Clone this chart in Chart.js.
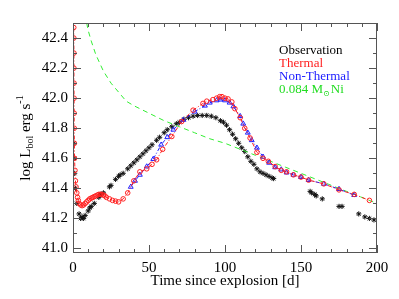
<!DOCTYPE html>
<html>
<head>
<meta charset="utf-8">
<script src="https://cdn.jsdelivr.net/npm/chart.js@4.4.1/dist/chart.umd.min.js"></script>
<style>
  html, body { margin: 0; padding: 0; background: #fff; }
  #wrap { width: 399px; height: 299px; }
</style>
</head>
<body>
<div id="wrap"><canvas id="lcChart" width="399" height="299"></canvas></div>
<script>
// observed bolometric light curve (days, log L)
const obsT = [0.5, 0.8, 1.1, 1.6, 2.5, 4, 5, 6, 7, 8, 10, 11, 12, 14, 17, 18, 20, 24, 25, 28, 30, 31, 33, 36, 38, 40, 42, 44, 46, 48, 50, 52, 55, 57, 60, 62, 65, 68, 70, 73, 76, 79, 82, 85, 88, 91, 94, 97, 99, 101, 103, 105, 107, 109, 111, 113, 115, 117, 119, 121, 123, 125, 127, 129, 131, 132, 156, 157, 159, 160, 164, 175, 177, 188, 192, 195, 198];
const obsL = [41.70, 41.60, 41.50, 41.40, 41.30, 41.23, 41.20, 41.21, 41.20, 41.22, 41.25, 41.27, 41.28, 41.30, 41.34, 41.36, 41.37, 41.41, 41.42, 41.46, 41.48, 41.49, 41.50, 41.53, 41.55, 41.57, 41.59, 41.61, 41.63, 41.65, 41.67, 41.69, 41.72, 41.74, 41.77, 41.79, 41.81, 41.83, 41.84, 41.86, 41.87, 41.88, 41.885, 41.885, 41.885, 41.88, 41.87, 41.85, 41.84, 41.82, 41.79, 41.76, 41.73, 41.70, 41.67, 41.645, 41.61, 41.58, 41.56, 41.53, 41.51, 41.50, 41.49, 41.48, 41.47, 41.465, 41.38, 41.37, 41.36, 41.35, 41.33, 41.28, 41.28, 41.23, 41.21, 41.20, 41.19];

// thermal model
const thermT = [0.5, 0.55, 0.6, 0.6, 0.65, 0.7, 0.75, 0.8, 0.9, 1.0, 1.3, 1.6, 2, 2.5, 3, 3.5, 4, 5, 6, 7, 8, 9, 10, 11, 12, 13, 14, 15, 16, 17, 18, 19, 20, 21, 22, 24, 26, 28, 30, 33, 36, 40, 44, 48.5, 52, 55, 59, 65, 71.5, 79, 85.5, 88, 92, 94.5, 96.5, 98, 100, 102, 104.5, 106.5, 110, 113, 116.5, 121, 125, 128.5, 133, 137, 140.5, 145, 150, 155, 165, 175, 185, 195];
const thermL = [42.47, 42.40, 42.30, 42.20, 42.10, 42.00, 41.90, 41.80, 41.70, 41.60, 41.52, 41.45, 41.41, 41.37, 41.34, 41.32, 41.30, 41.29, 41.285, 41.29, 41.30, 41.31, 41.32, 41.33, 41.335, 41.34, 41.345, 41.35, 41.355, 41.36, 41.36, 41.36, 41.355, 41.35, 41.34, 41.33, 41.32, 41.315, 41.31, 41.33, 41.37, 41.45, 41.51, 41.53, 41.56, 41.59, 41.66, 41.745, 41.845, 41.92, 41.965, 41.98, 41.99, 42.00, 42.01, 42.01, 42.00, 41.995, 41.975, 41.93, 41.87, 41.80, 41.735, 41.64, 41.60, 41.58, 41.545, 41.52, 41.51, 41.49, 41.475, 41.455, 41.43, 41.39, 41.36, 41.32];

// non-thermal model
const nonthT = [38, 40.8, 44, 48.5, 52.8, 58, 62, 66, 72.6, 80, 86.8, 90, 94.5, 97, 100, 103, 105.5, 110, 112, 115, 117.6, 121, 125, 129, 133, 137, 140.5, 145, 150, 155, 165, 175, 185];
const nonthL = [41.41, 41.45, 41.49, 41.545, 41.595, 41.69, 41.74, 41.79, 41.855, 41.91, 41.95, 41.97, 41.985, 41.99, 41.985, 41.97, 41.945, 41.88, 41.83, 41.77, 41.72, 41.67, 41.61, 41.57, 41.54, 41.525, 41.505, 41.49, 41.475, 41.455, 41.43, 41.395, 41.355];

// 0.084 Msun Ni decay curve
const niT = [9, 10, 12, 15, 20, 25, 30, 35, 40, 50, 60, 70, 80, 90, 100, 120, 140, 160, 180, 200];
const niL = [42.50, 42.45, 42.38, 42.29, 42.18, 42.10, 42.04, 41.98, 41.95, 41.90, 41.85, 41.81, 41.77, 41.73, 41.70, 41.62, 41.54, 41.46, 41.38, 41.30];

const xTicks = [0, 50, 100, 150, 200];
const yTicks = [41.0, 41.2, 41.4, 41.6, 41.8, 42.0, 42.2, 42.4];

const serif = '"Liberation Serif", "DejaVu Serif", serif';

function pts(xs, ys) {
    return xs.map((x, i) => ({ x: x, y: ys[i] }));
}

// frame, inward ticks, titles and legend, drawn IDL style
const idlFrame = {
    id: 'idlFrame',
    afterDraw(chart) {
        const ctx = chart.ctx;
        const a = chart.chartArea;
        const xs = chart.scales.x;
        const ys = chart.scales.y;
        ctx.save();
        ctx.strokeStyle = '#555';
        ctx.lineWidth = 1;
        ctx.strokeRect(a.left + 0.5, a.top + 0.5, a.right - a.left - 1, a.bottom - a.top - 1);

        ctx.beginPath();
        for (let t = 0; t <= 200; t += 10) {
            const px = Math.round(xs.getPixelForValue(t)) + 0.5;
            const len = (t % 50 === 0) ? 8 : 4;
            ctx.moveTo(px, a.bottom); ctx.lineTo(px, a.bottom - len);
            ctx.moveTo(px, a.top); ctx.lineTo(px, a.top + len);
        }
        for (let k = 0; k <= 14; k++) {
            const v = 41.0 + k * 0.1;
            const py = Math.round(ys.getPixelForValue(v)) + 0.5;
            const len = (k % 2 === 0) ? 8 : 4;
            ctx.moveTo(a.left, py); ctx.lineTo(a.left + len, py);
            ctx.moveTo(a.right, py); ctx.lineTo(a.right - len, py);
        }
        ctx.stroke();

        // axis titles
        ctx.fillStyle = '#000';
        ctx.font = '15px ' + serif;
        ctx.textAlign = 'center';
        ctx.textBaseline = 'middle';
        ctx.fillText('Time since explosion [d]', 225, 281);

        ctx.save();
        ctx.translate(26, 138);
        ctx.rotate(-Math.PI / 2);
        const big = '15px ' + serif, small = '10px ' + serif;
        const parts = [
            ['log L', big, 0], ['bol', small, 4], [' erg s', big, 0], ['-1', small, -6]
        ];
        let total = 0;
        parts.forEach(p => { ctx.font = p[1]; total += ctx.measureText(p[0]).width; });
        let cx = -total / 2;
        ctx.textAlign = 'left';
        parts.forEach(p => {
            ctx.font = p[1];
            ctx.fillText(p[0], cx, p[2]);
            cx += ctx.measureText(p[0]).width;
        });
        ctx.restore();

        // legend
        ctx.textAlign = 'left';
        ctx.textBaseline = 'middle';
        const lx = 279;
        const lf = '13px ' + serif;
        ctx.font = lf;
        ctx.fillStyle = '#000'; ctx.fillText('Observation', lx, 51);
        ctx.fillStyle = '#ff2020'; ctx.fillText('Thermal', lx, 64);
        ctx.fillStyle = '#1a1aff'; ctx.fillText('Non-Thermal', lx, 77);
        ctx.fillStyle = '#22dd22';
        let gx = lx;
        ctx.fillText('0.084 M', gx, 90); gx += ctx.measureText('0.084 M').width;
        ctx.font = '8px ' + serif;
        ctx.fillText('\u2299', gx, 94); gx += ctx.measureText('\u2299').width + 1;
        ctx.font = lf;
        ctx.fillText('Ni', gx, 90);
        ctx.restore();
    }
};

const ctx = document.getElementById('lcChart').getContext('2d');

const config = {
    type: 'scatter',
    data: {
        datasets: [
            {
                label: 'Observation',
                data: pts(obsT, obsL),
                showLine: false,
                pointStyle: 'star',
                pointRadius: 2.6,
                borderColor: '#111',
                borderWidth: 1,
                backgroundColor: '#111',
                order: 4
            },
            {
                label: '0.084 M Ni',
                data: pts(niT, niL),
                showLine: true,
                pointRadius: 0,
                borderColor: '#33ee33',
                borderWidth: 1,
                borderDash: [5, 4],
                order: 3
            },
            {
                label: 'Non-Thermal',
                data: pts(nonthT, nonthL),
                showLine: true,
                pointStyle: 'triangle',
                pointRadius: 2.8,
                borderColor: '#2020ff',
                backgroundColor: 'rgba(0,0,0,0)',
                borderWidth: 1,
                borderDash: [4, 2, 1, 2],
                order: 2
            },
            {
                label: 'Thermal',
                data: pts(thermT, thermL),
                showLine: true,
                pointStyle: 'circle',
                pointRadius: 2.3,
                borderColor: '#ff2020',
                backgroundColor: 'rgba(0,0,0,0)',
                borderWidth: 1,
                borderDash: [4, 2, 1, 2],
                order: 1
            }
        ]
    },
    options: {
        responsive: false,
        animation: false,
        layout: { padding: { top: 23, right: 22, left: 0, bottom: 0 } },
        plugins: {
            legend: { display: false },
            tooltip: { enabled: false }
        },
        scales: {
            x: {
                type: 'linear',
                min: 0,
                max: 200,
                afterFit: s => { s.height = 46; },
                afterBuildTicks: s => { s.ticks = xTicks.map(v => ({ value: v })); },
                grid: { display: false, drawTicks: false },
                border: { display: false },
                ticks: {
                    padding: 6,
                    color: '#000',
                    font: { family: serif, size: 15 },
                    callback: v => String(v)
                }
            },
            y: {
                type: 'linear',
                min: 40.97,
                max: 42.5,
                afterFit: s => { s.width = 73; },
                afterBuildTicks: s => { s.ticks = yTicks.map(v => ({ value: v })); },
                grid: { display: false, drawTicks: false },
                border: { display: false },
                ticks: {
                    padding: 5,
                    color: '#000',
                    font: { family: serif, size: 15 },
                    callback: v => v.toFixed(1)
                }
            }
        }
    },
    plugins: [idlFrame]
};

const chart = new Chart(ctx, config);
</script>
</body>
</html>
